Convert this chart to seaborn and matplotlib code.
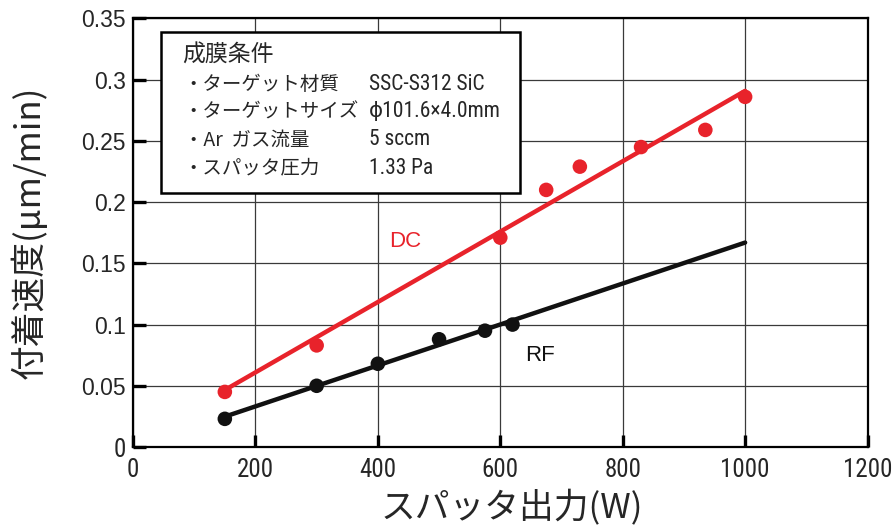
import numpy as np
import pandas as pd
import matplotlib
matplotlib.use("Agg")
import matplotlib.pyplot as plt
from matplotlib import font_manager
from matplotlib.patches import Rectangle
import seaborn as sns

# Deposition rate vs. sputtering power
power_dc = [150, 300, 600, 675, 730, 830, 935, 1000]
rate_dc = [0.045, 0.083, 0.171, 0.210, 0.229, 0.245, 0.259, 0.286]
power_rf = [150, 300, 400, 500, 575, 620]
rate_rf = [0.023, 0.050, 0.068, 0.088, 0.095, 0.100]
fit_span = [150, 1000]

x_ticks = [0, 200, 400, 600, 800, 1000, 1200]
y_ticks = [0, 0.05, 0.1, 0.15, 0.2, 0.25, 0.3, 0.35]
y_ticklabels = ["0", "0.05", "0.1", "0.15", "0.2", "0.25", "0.3", "0.35"]

cond_title = "成膜条件"
cond_names = ["・ターゲット材質", "・ターゲットサイズ", "・Ar  ガス流量", "・スパッタ圧力"]
cond_values = ["SSC-S312 SiC", "ϕ101.6×4.0mm", "5 sccm", "1.33 Pa"]

RED = "#e8232b"
BLACK = "#111111"

sns.set_theme(style="white")
JP = ["Noto Sans CJK JP", "DejaVu Sans"]
plt.rcParams["font.family"] = ["Liberation Sans", "DejaVu Sans"]


def narrow_family():
    """Return (family, stretch) of a condensed sans face if one is installed."""
    entries = font_manager.fontManager.ttflist
    names = {f.name for f in entries}
    for want in ("Liberation Sans Narrow", "Roboto Condensed", "Open Sans Condensed"):
        if want in names:
            return want, "normal"
    for f in entries:
        if f.name in ("DejaVu Sans", "Roboto", "Open Sans", "Noto Sans") and \
                str(f.stretch) in ("condensed", "semi-condensed", "75", "87.5", "62.5"):
            return f.name, f.stretch
    return "Liberation Sans", "normal"


NARROW, NARROW_STRETCH = narrow_family()
NARROW_FAM = [NARROW, "DejaVu Sans"]

fig = plt.figure(figsize=(8.94, 5.27), dpi=100)
ax = fig.add_axes([0.1488, 0.1518, 0.8216, 0.8131])

# linear fits for each sputtering mode
fx = np.array(fit_span, dtype=float)
k_dc = np.polyfit(power_dc, rate_dc, 1)
k_rf = np.polyfit(power_rf, rate_rf, 1)
fit = pd.DataFrame({
    "power": np.concatenate([fx, fx]),
    "rate": np.concatenate([np.polyval(k_dc, fx), np.polyval(k_rf, fx)]),
    "mode": ["DC", "DC", "RF", "RF"],
})
pts = pd.DataFrame({
    "power": power_dc + power_rf,
    "rate": rate_dc + rate_rf,
    "mode": ["DC"] * len(power_dc) + ["RF"] * len(power_rf),
})
pal = {"DC": RED, "RF": BLACK}

sns.lineplot(data=fit, x="power", y="rate", hue="mode", palette=pal,
             linewidth=3.2, legend=False, ax=ax, zorder=3)
sns.scatterplot(data=pts, x="power", y="rate", hue="mode", palette=pal,
                s=110, edgecolor="none", legend=False, ax=ax, zorder=4)

ax.set_xlim(0, 1200)
ax.set_ylim(0, 0.35)
ax.set_xticks(x_ticks)
ax.set_yticks(y_ticks)
ax.set_yticklabels(y_ticklabels)
ax.grid(True, color="#3a3a3a", linewidth=0.9, zorder=0)
ax.set_axisbelow(True)
for sp in ax.spines.values():
    sp.set_color("black")
    sp.set_linewidth(1.6)
ax.tick_params(axis="both", direction="in", length=9, width=2.4, color="black",
               bottom=True, left=True, top=False, right=False)
ax.tick_params(axis="x", pad=8, labelsize=18)
ax.tick_params(axis="y", pad=5, labelsize=16.5)
for lab in ax.get_xticklabels():
    lab.set_fontfamily(NARROW_FAM)
    lab.set_fontstretch(NARROW_STRETCH)
ylab0 = ax.get_yticklabels()[0]
ylab0.set_fontfamily(NARROW_FAM)
ylab0.set_fontstretch(NARROW_STRETCH)
ylab0.set_fontsize(18)

ax.set_xlabel("スパッタ出力(W)", fontsize=25, family=JP)
ax.xaxis.set_label_coords(0.516, -0.184)
ax.xaxis.label.set_va("bottom")
ax.set_ylabel("付着速度(μm/min)", fontsize=25, family=JP, labelpad=24)

ax.text(445, 0.1675, "DC", color=RED, fontsize=16, ha="center", va="center")
ax.text(665, 0.075, "RF", color=BLACK, fontsize=16, ha="center", va="center")

# deposition conditions box
box = Rectangle((0.038, 0.593), 0.489, 0.3755, transform=ax.transAxes,
                facecolor="white", edgecolor="black", linewidth=1.8, zorder=5)
ax.add_patch(box)
ax.text(0.0663, 0.9148, cond_title, transform=ax.transAxes, fontsize=16.5,
        family=JP, ha="left", va="center", zorder=6)
rows_y = [0.847, 0.782, 0.7165, 0.651]
for yy, nm, val in zip(rows_y, cond_names, cond_values):
    ax.text(0.069, yy, nm, transform=ax.transAxes, fontsize=14, family=JP,
            ha="left", va="center", zorder=6)
    ax.text(0.3213, yy, val, transform=ax.transAxes, fontsize=15.5,
            family=NARROW_FAM, fontstretch=NARROW_STRETCH,
            ha="left", va="center", zorder=6)

fig.savefig("out.png", dpi=100, facecolor="white")
